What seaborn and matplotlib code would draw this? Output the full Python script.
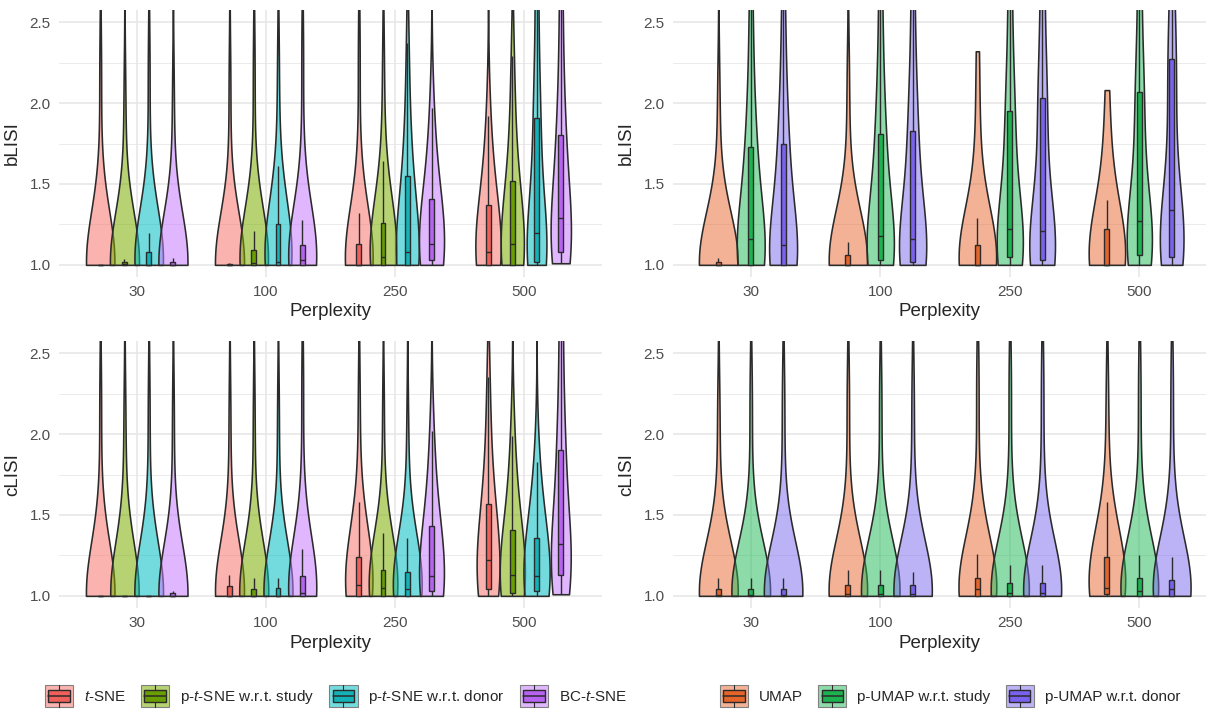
import numpy as np
import pandas as pd
import matplotlib
matplotlib.use("Agg")
import matplotlib.pyplot as plt
import seaborn as sns
from matplotlib.legend_handler import HandlerBase
from matplotlib.patches import Rectangle
from matplotlib.lines import Line2D
from matplotlib.ticker import MultipleLocator

perplexities = ["30", "100", "250", "500"]
tsne_methods = ["$t$-SNE", "p-$t$-SNE w.r.t. study", "p-$t$-SNE w.r.t. donor", "BC-$t$-SNE"]
umap_methods = ["UMAP", "p-UMAP w.r.t. study", "p-UMAP w.r.t. donor"]
tsne_colors = ["#F8766D", "#7CAE00", "#00BFC4", "#C77CFF"]
tsne_box_colors = ["#F0605A", "#6A9E00", "#12B2B7", "#B862F2"]
umap_colors = ["#E8672E", "#1DB954", "#7B68EE"]
umap_box_colors = ["#E5642A", "#1BB24F", "#7B62EE"]

# LISI values per method, one list per perplexity (30, 100, 250, 500)
blisi_tsne = [
    [1, 1, 1, 1, 1, 1, 1, 1, 1, 1, 1, 1, 1, 1, 1, 1, 1.25, 1.5, 2.2, 3.5],
    [1, 1, 1, 1, 1, 1, 1, 1, 1, 1, 1, 1, 1, 1, 1.005, 1.005, 1.01, 1.4, 2.1, 3.5],
    [1, 1, 1, 1, 1, 1, 1, 1, 1, 1, 1, 1.03, 1.06, 1.1, 1.13, 1.13, 1.32, 1.6, 2.3, 3.5],
    [1, 1, 1, 1, 1, 1, 1.02, 1.04, 1.06, 1.08, 1.08, 1.15, 1.22, 1.3, 1.37, 1.37, 1.55, 1.72, 1.92, 3.5],
]
blisi_ptsne_study = [
    [1, 1, 1, 1, 1, 1, 1, 1, 1, 1, 1.005, 1.005, 1.01, 1.01, 1.015, 1.015, 1.035, 1.4, 2.0, 3.5],
    [1, 1, 1, 1, 1, 1, 1, 1, 1, 1.01, 1.01, 1.03, 1.05, 1.07, 1.09, 1.09, 1.21, 1.5, 2.2, 3.5],
    [1, 1, 1, 1, 1, 1, 1.02, 1.03, 1.04, 1.05, 1.05, 1.1, 1.15, 1.2, 1.26, 1.26, 1.45, 1.64, 2.2, 3.5],
    [1, 1, 1, 1, 1, 1, 1.04, 1.08, 1.11, 1.13, 1.13, 1.22, 1.32, 1.42, 1.52, 1.52, 1.75, 2.0, 2.29, 3.6],
]
blisi_ptsne_donor = [
    [1, 1, 1, 1, 1, 1, 1, 1, 1, 1, 1, 1.02, 1.04, 1.06, 1.08, 1.08, 1.2, 1.5, 2.2, 3.5],
    [1, 1, 1, 1, 1, 1, 1.005, 1.01, 1.015, 1.02, 1.02, 1.06, 1.12, 1.18, 1.25, 1.25, 1.4, 1.61, 2.2, 3.5],
    [1, 1, 1, 1, 1, 1, 1.02, 1.04, 1.06, 1.08, 1.08, 1.18, 1.3, 1.42, 1.55, 1.55, 1.75, 2.0, 2.37, 3.5],
    [1, 1, 1.01, 1.015, 1.02, 1.02, 1.08, 1.13, 1.17, 1.2, 1.2, 1.38, 1.56, 1.74, 1.91, 1.91, 2.2, 2.5, 2.9, 3.2],
]
blisi_bc_tsne = [
    [1, 1, 1, 1, 1, 1, 1, 1, 1, 1, 1, 1, 1.01, 1.01, 1.02, 1.02, 1.04, 1.4, 2.0, 3.5],
    [1, 1, 1, 1, 1, 1, 1.01, 1.02, 1.025, 1.03, 1.03, 1.06, 1.08, 1.1, 1.12, 1.12, 1.28, 1.6, 2.3, 3.5],
    [1, 1, 1.01, 1.02, 1.03, 1.03, 1.06, 1.09, 1.11, 1.13, 1.13, 1.2, 1.27, 1.34, 1.41, 1.41, 1.6, 1.78, 1.97, 3.5],
    [1.01, 1.03, 1.05, 1.07, 1.08, 1.08, 1.14, 1.2, 1.25, 1.29, 1.29, 1.42, 1.55, 1.68, 1.8, 1.8, 2.05, 2.3, 2.6, 3.0],
]

blisi_umap = [
    [1, 1, 1, 1, 1, 1, 1, 1, 1, 1, 1, 1, 1.01, 1.015, 1.02, 1.02, 1.045, 1.4, 2.0, 3.5],
    [1, 1, 1, 1, 1, 1, 1, 1, 1, 1, 1, 1.02, 1.03, 1.05, 1.06, 1.06, 1.14, 1.5, 2.1, 3.5],
    [1, 1, 1, 1, 1, 1, 1, 1, 1, 1, 1, 1.03, 1.06, 1.09, 1.12, 1.12, 1.29, 1.55, 1.9, 2.32],
    [1, 1, 1, 1, 1, 1, 1, 1, 1, 1, 1, 1.06, 1.12, 1.17, 1.22, 1.22, 1.4, 1.55, 1.8, 2.08],
]
blisi_pumap_study = [
    [1, 1, 1, 1, 1, 1, 1.05, 1.1, 1.13, 1.16, 1.16, 1.3, 1.45, 1.6, 1.73, 1.73, 2.0, 2.3, 2.7, 3.5],
    [1, 1, 1.01, 1.02, 1.03, 1.03, 1.08, 1.12, 1.15, 1.18, 1.18, 1.35, 1.5, 1.66, 1.81, 1.81, 2.1, 2.4, 2.8, 3.5],
    [1, 1.01, 1.02, 1.04, 1.05, 1.05, 1.1, 1.15, 1.19, 1.22, 1.22, 1.4, 1.6, 1.78, 1.95, 1.95, 2.25, 2.6, 3.0, 3.6],
    [1, 1.01, 1.03, 1.05, 1.06, 1.06, 1.12, 1.18, 1.23, 1.27, 1.27, 1.47, 1.67, 1.87, 2.07, 2.07, 2.4, 2.8, 3.2, 3.8],
]
blisi_pumap_donor = [
    [1, 1, 1, 1, 1, 1, 1.04, 1.07, 1.1, 1.12, 1.12, 1.28, 1.45, 1.6, 1.75, 1.75, 2.0, 2.3, 2.7, 3.5],
    [1, 1, 1.005, 1.01, 1.02, 1.02, 1.07, 1.11, 1.14, 1.16, 1.16, 1.33, 1.5, 1.67, 1.83, 1.83, 2.1, 2.4, 2.8, 3.6],
    [1, 1, 1.01, 1.02, 1.03, 1.03, 1.08, 1.14, 1.18, 1.21, 1.21, 1.42, 1.63, 1.83, 2.03, 2.03, 2.3, 2.65, 3.0, 3.6],
    [1, 1.01, 1.02, 1.04, 1.05, 1.05, 1.13, 1.22, 1.29, 1.34, 1.34, 1.57, 1.8, 2.03, 2.27, 2.27, 2.6, 3.0, 3.4, 4.0],
]

clisi_tsne = [
    [1, 1, 1, 1, 1, 1, 1, 1, 1, 1, 1, 1, 1, 1, 1, 1, 1.25, 1.5, 2.2, 3.5],
    [1, 1, 1, 1, 1, 1, 1, 1, 1, 1, 1, 1.02, 1.04, 1.05, 1.06, 1.06, 1.13, 1.45, 2.1, 3.5],
    [1, 1, 1, 1, 1, 1, 1.03, 1.05, 1.06, 1.07, 1.07, 1.12, 1.16, 1.2, 1.24, 1.24, 1.4, 1.58, 2.2, 3.5],
    [1, 1.01, 1.02, 1.03, 1.04, 1.04, 1.1, 1.15, 1.19, 1.22, 1.22, 1.3, 1.39, 1.48, 1.57, 1.57, 1.8, 2.05, 2.35, 3.6],
]
clisi_ptsne_study = [
    [1, 1, 1, 1, 1, 1, 1, 1, 1, 1, 1, 1, 1, 1, 1, 1, 1.28, 1.52, 2.1, 3.4],
    [1, 1, 1, 1, 1, 1, 1, 1, 1, 1, 1, 1.015, 1.03, 1.04, 1.045, 1.045, 1.11, 1.45, 2.1, 3.5],
    [1, 1, 1, 1, 1, 1, 1.02, 1.03, 1.04, 1.05, 1.05, 1.08, 1.11, 1.14, 1.16, 1.16, 1.28, 1.39, 2.1, 3.5],
    [1, 1, 1.01, 1.015, 1.02, 1.02, 1.06, 1.09, 1.11, 1.13, 1.13, 1.2, 1.27, 1.34, 1.41, 1.41, 1.6, 1.8, 1.99, 3.5],
]
clisi_ptsne_donor = [
    [1, 1, 1, 1, 1, 1, 1, 1, 1, 1, 1, 1, 1, 1, 1, 1, 1.22, 1.48, 2.15, 3.5],
    [1, 1, 1, 1, 1, 1, 1, 1, 1, 1, 1, 1.02, 1.03, 1.04, 1.05, 1.05, 1.11, 1.45, 2.1, 3.5],
    [1, 1, 1, 1, 1, 1, 1.015, 1.025, 1.035, 1.04, 1.04, 1.07, 1.1, 1.13, 1.15, 1.15, 1.26, 1.36, 2.0, 3.5],
    [1, 1, 1.01, 1.02, 1.03, 1.03, 1.06, 1.09, 1.1, 1.12, 1.12, 1.18, 1.24, 1.3, 1.36, 1.36, 1.52, 1.68, 1.83, 3.4],
]
clisi_bc_tsne = [
    [1, 1, 1, 1, 1, 1, 1, 1, 1, 1, 1, 1, 1.005, 1.01, 1.015, 1.015, 1.03, 1.45, 2.1, 3.5],
    [1, 1, 1, 1, 1, 1, 1.01, 1.015, 1.018, 1.02, 1.02, 1.05, 1.08, 1.1, 1.12, 1.12, 1.29, 1.6, 2.3, 3.5],
    [1, 1, 1.01, 1.02, 1.03, 1.03, 1.06, 1.08, 1.1, 1.12, 1.12, 1.2, 1.28, 1.36, 1.43, 1.43, 1.62, 1.82, 2.02, 3.5],
    [1.01, 1.04, 1.08, 1.11, 1.13, 1.13, 1.19, 1.25, 1.29, 1.32, 1.32, 1.47, 1.62, 1.76, 1.9, 1.9, 2.15, 2.4, 2.7, 3.0],
]

clisi_umap = [
    [1, 1, 1, 1, 1, 1, 1, 1, 1, 1.005, 1.005, 1.02, 1.03, 1.04, 1.045, 1.045, 1.11, 1.45, 2.1, 3.5],
    [1, 1, 1, 1, 1, 1, 1, 1, 1.005, 1.01, 1.01, 1.03, 1.05, 1.06, 1.07, 1.07, 1.16, 1.5, 2.2, 3.5],
    [1, 1, 1, 1, 1, 1, 1.01, 1.02, 1.03, 1.04, 1.04, 1.06, 1.08, 1.1, 1.11, 1.11, 1.26, 1.6, 2.3, 3.5],
    [1, 1, 1.005, 1.008, 1.01, 1.01, 1.02, 1.035, 1.045, 1.05, 1.05, 1.1, 1.15, 1.2, 1.24, 1.24, 1.4, 1.58, 2.2, 3.5],
]
clisi_pumap_study = [
    [1, 1, 1, 1, 1, 1, 1, 1, 1, 1.005, 1.005, 1.02, 1.03, 1.04, 1.045, 1.045, 1.11, 1.5, 2.2, 3.5],
    [1, 1, 1, 1, 1, 1, 1, 1, 1.005, 1.01, 1.01, 1.03, 1.045, 1.055, 1.065, 1.065, 1.16, 1.5, 2.2, 3.5],
    [1, 1, 1, 1, 1, 1, 1.005, 1.01, 1.015, 1.02, 1.02, 1.04, 1.06, 1.07, 1.08, 1.08, 1.19, 1.6, 2.3, 3.5],
    [1, 1, 1, 1, 1, 1, 1.01, 1.02, 1.025, 1.03, 1.03, 1.06, 1.08, 1.1, 1.11, 1.11, 1.25, 1.65, 2.3, 3.5],
]
clisi_pumap_donor = [
    [1, 1, 1, 1, 1, 1, 1, 1, 1, 1.005, 1.005, 1.02, 1.03, 1.04, 1.045, 1.045, 1.11, 1.55, 2.2, 3.5],
    [1, 1, 1, 1, 1, 1, 1, 1, 1.005, 1.01, 1.01, 1.03, 1.045, 1.055, 1.065, 1.065, 1.15, 1.55, 2.2, 3.5],
    [1, 1, 1, 1, 1, 1, 1.005, 1.01, 1.015, 1.02, 1.02, 1.04, 1.06, 1.07, 1.08, 1.08, 1.19, 1.65, 2.3, 3.5],
    [1, 1, 1, 1, 1, 1, 1.01, 1.02, 1.03, 1.04, 1.04, 1.06, 1.08, 1.09, 1.1, 1.1, 1.24, 1.65, 2.3, 3.5],
]

BW = 0.31          # kernel bandwidth in LISI units
LINE = "#2b2b2b"
GRID = "#E6E6E6"


def fixed_bw(kde):
    # same absolute bandwidth for every violin
    return BW / np.std(kde.dataset, ddof=1)


def long_frame(groups, methods):
    n = len(methods)
    step = 0.75 / n
    rows = []
    for j, (method, per_perp) in enumerate(zip(methods, groups)):
        for i, values in enumerate(per_perp):
            pos = i + (j - (n - 1) / 2) * step
            for v in values:
                rows.append((pos, method, v))
    return pd.DataFrame(rows, columns=["pos", "method", "value"])


def draw_panel(ax, df, methods, colors, box_colors, ylabel, xmax, alpha):
    n = len(methods)
    step = 0.75 / n
    sns.violinplot(data=df, x="pos", y="value", hue="method", hue_order=methods,
                   palette=dict(zip(methods, colors)), native_scale=True, dodge=False,
                   cut=0, inner=None, density_norm="area", common_norm=True,
                   width=(0.9 / n) / step, bw_method=fixed_bw, linewidth=1.15,
                   linecolor=LINE, saturation=1, legend=False, ax=ax)
    for coll in ax.collections:
        fc = coll.get_facecolor()
        fc[:, 3] = alpha
        coll.set_facecolor(fc)
    sns.boxplot(data=df, x="pos", y="value", hue="method", hue_order=methods,
                palette=dict(zip(methods, box_colors)), native_scale=True, dodge=False,
                width=0.038 / step, showfliers=False, showcaps=False, linewidth=1.0,
                linecolor=LINE, saturation=1, legend=False, ax=ax)
    ax.set_xlim(-0.6, xmax)
    ax.set_ylim(0.925, 2.575)
    ax.set_xticks(range(len(perplexities)), perplexities)
    ax.yaxis.set_major_locator(MultipleLocator(0.5))
    ax.yaxis.set_minor_locator(MultipleLocator(0.25))
    ax.set_axisbelow(True)
    ax.grid(True, which="major", axis="both", color=GRID, linewidth=1.1)
    ax.grid(True, which="minor", axis="y", color=GRID, linewidth=0.55)
    ax.tick_params(axis="both", which="both", length=0, pad=6, labelsize=11, labelcolor="#4D4D4D")
    ax.set_xlabel("Perplexity", fontsize=13.5, labelpad=3)
    ax.set_ylabel(ylabel, fontsize=13.5, labelpad=6)
    for s in ax.spines.values():
        s.set_visible(False)


class ViolinBoxKey(HandlerBase):
    def __init__(self, fill, box):
        super().__init__()
        self.fill = fill
        self.box = box

    def create_artists(self, legend, orig_handle, xdescent, ydescent, width, height, fontsize, trans):
        x0, y0 = -xdescent, -ydescent
        cx = x0 + width / 2
        return [
            Rectangle((x0, y0), width, height, facecolor=self.fill, edgecolor="#808080",
                      lw=0.8, transform=trans),
            Line2D([cx, cx], [y0, y0 + height], color=LINE, lw=0.8, transform=trans),
            Rectangle((x0 + 0.12 * width, y0 + 0.24 * height), 0.76 * width, 0.52 * height,
                      facecolor=self.box, edgecolor=LINE, lw=1.0, transform=trans),
            Line2D([x0 + 0.12 * width, x0 + 0.88 * width], [y0 + height / 2] * 2,
                   color=LINE, lw=1.1, transform=trans),
        ]


def add_legend(fig, methods, colors, box_colors, xcenter, alpha):
    handles = [Rectangle((0, 0), 1, 1) for _ in methods]
    hmap = {}
    for h, c, bc in zip(handles, colors, box_colors):
        rgb = matplotlib.colors.to_rgb(c)
        hmap[h] = ViolinBoxKey((*rgb, alpha), bc)
    fig.legend(handles, methods, handler_map=hmap, loc="center",
               bbox_to_anchor=(xcenter / 1206, 1 - 696 / 711), ncol=len(methods),
               frameon=False, fontsize=11, handlelength=1.85, handleheight=1.85,
               handletextpad=0.7, columnspacing=1.0)


sns.set_style("white")
plt.rcParams["font.family"] = ["Liberation Sans", "DejaVu Sans"]
plt.rcParams["mathtext.fontset"] = "custom"
plt.rcParams["mathtext.rm"] = "Liberation Sans"
plt.rcParams["mathtext.it"] = "Liberation Sans:italic"

fig = plt.figure(figsize=(12.06, 7.11), dpi=100)
W, H = 1206, 711
ax_tl = fig.add_axes([59 / W, 1 - 277 / H, 543 / W, 267 / H])
ax_tr = fig.add_axes([673 / W, 1 - 277 / H, 533 / W, 267 / H])
ax_bl = fig.add_axes([59 / W, 1 - 608 / H, 543 / W, 267 / H])
ax_br = fig.add_axes([673 / W, 1 - 608 / H, 533 / W, 267 / H])

tsne_b = long_frame([blisi_tsne, blisi_ptsne_study, blisi_ptsne_donor, blisi_bc_tsne], tsne_methods)
umap_b = long_frame([blisi_umap, blisi_pumap_study, blisi_pumap_donor], umap_methods)
tsne_c = long_frame([clisi_tsne, clisi_ptsne_study, clisi_ptsne_donor, clisi_bc_tsne], tsne_methods)
umap_c = long_frame([clisi_umap, clisi_pumap_study, clisi_pumap_donor], umap_methods)

draw_panel(ax_tl, tsne_b, tsne_methods, tsne_colors, tsne_box_colors, "bLISI", 3.6, 0.55)
draw_panel(ax_tr, umap_b, umap_methods, umap_colors, umap_box_colors, "bLISI", 3.515, 0.5)
draw_panel(ax_bl, tsne_c, tsne_methods, tsne_colors, tsne_box_colors, "cLISI", 3.6, 0.55)
draw_panel(ax_br, umap_c, umap_methods, umap_colors, umap_box_colors, "cLISI", 3.515, 0.5)

add_legend(fig, tsne_methods, tsne_colors, tsne_box_colors, 336, 0.55)
add_legend(fig, umap_methods, umap_colors, umap_box_colors, 950, 0.5)

fig.savefig("out.png", dpi=100)
